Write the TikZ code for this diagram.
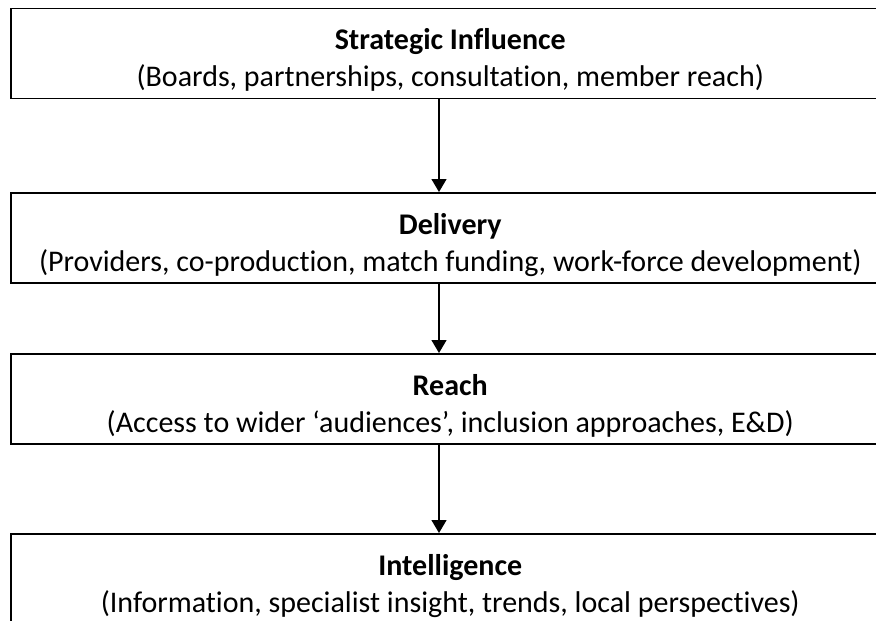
\documentclass[tikz,border=0pt]{standalone}
\usepackage{fontspec}
\setmainfont{Carlito}[Ligatures=NoCommon]
\usetikzlibrary{arrows.meta}
\begin{document}
\begin{tikzpicture}[x=1pt,y=1pt,
  tier/.style={draw=black, line width=1.5pt, minimum width=879pt, minimum height=90pt,
    anchor=north west, inner sep=0pt},
  caption/.style={align=center, inner sep=0pt, yshift=-7pt, font=\fontsize{30}{37}\selectfont},
  flow/.style={line width=1.3pt, -{Triangle[length=13pt,width=15pt]}}]
\useasboundingbox (0,0) rectangle (876,-621);
% the four tiers
\node[tier] (strat) at (10,-7.5) {};
\node[tier] (deliv) at (10,-192) {};
\node[tier] (reach) at (10,-353) {};
\node[tier] (intel) at (10,-533) {};
% their captions
\node[caption] (stratT) at (strat.center) {\textbf{Strategic Influence}\\(Boards, partnerships, consultation, member reach)};
\node[caption] (delivT) at (deliv.center) {\textbf{Delivery}\\(Providers, co-production, match funding, work-force development)};
\node[caption] (reachT) at (reach.center) {\textbf{Reach}\\(Access to wider ‘audiences’, inclusion approaches, E\&D)};
\node[caption] (intelT) at (intel.center) {\textbf{Intelligence}\\(Information, specialist insight, trends, local perspectives)};
% downward arrows between tiers
\draw[flow] (strat.south -| 439,0) -- (deliv.north -| 439,0);
\draw[flow] (deliv.south -| 439,0) -- (reach.north -| 439,0);
\draw[flow] (reach.south -| 439,0) -- (intel.north -| 439,0);
\end{tikzpicture}
\end{document}
